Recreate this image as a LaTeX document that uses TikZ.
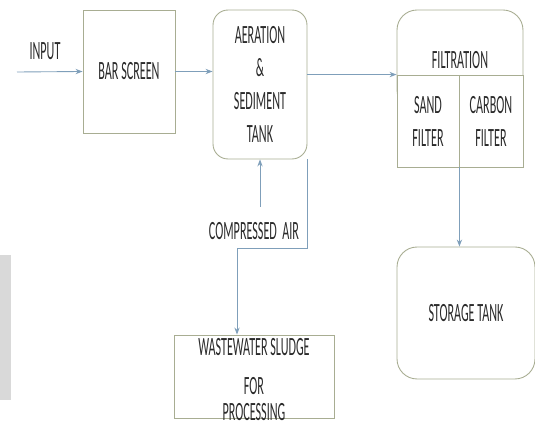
\documentclass[tikz,border=0pt]{standalone}
\usepackage{fontspec}
\setmainfont[FakeStretch=0.46]{Carlito}
\usetikzlibrary{arrows.meta}
\definecolor{boxline}{HTML}{A8AD92}
\definecolor{flowline}{HTML}{7F9FBA}
\definecolor{ink}{HTML}{2B2B2B}

\begin{document}
\begin{tikzpicture}[x=0.02cm,y=-0.02cm,
	box/.style = {draw=boxline, line width=0.5pt, fill=white, text=ink, align=center, inner sep=0pt,
		font=\fontsize{15}{18.8}\selectfont},
	tank/.style = {box, rounded corners=0.3cm},
	flow/.style = {draw=flowline, line width=0.5pt, -{Stealth[length=4pt,width=3pt]}},
	lbl/.style = {text=ink, font=\fontsize{15}{18.8}\selectfont}]
	\useasboundingbox (0,0) rectangle (535,428);
	\fill[black!15] (0,255) rectangle (11,400);
	\node[lbl] (input) at (45,51) {INPUT};
	\coordinate (in) at (17,72);
	\node[box, minimum width=1.84cm, minimum height=2.46cm] (bar) at (129,71.5) {BAR SCREEN};
	\node[tank, minimum width=1.88cm, minimum height=2.98cm] (aer) at (260,84.5) {AERATION\\\&\\SEDIMENT\\TANK};
	\node[tank, rounded corners=0.4cm, minimum width=2.52cm, minimum height=2cm] (filt) at (460,60) {FILTRATION};
	\node[box, minimum width=1.24cm, minimum height=1.84cm] (sand) at (428,121) {SAND\\FILTER};
	\node[box, minimum width=1.28cm, minimum height=1.84cm] (carbon) at (491,121) {CARBON\\FILTER};
	\node[tank, rounded corners=0.4cm, minimum width=2.76cm, minimum height=2.64cm] (store) at (466,313) {STORAGE TANK};
	\node[lbl] (air) at (254,231) {COMPRESSED\ \ AIR};
	\coordinate (airtop) at (260,207);
	\node[box, minimum width=3.2cm, minimum height=1.66cm,
		label={[lbl, align=center, inner sep=0pt, yshift=-2pt, font=\fontsize{15}{16}\selectfont]center:WASTEWATER SLUDGE\\[6pt]FOR\\[-1pt]PROCESSING}]
		(sludge) at (254,376.5) {};
	\coordinate (bend) at (237,248);
	\draw[flow] (in) -- (bar.west);
	\draw[flow] (bar.east) -- (bar.east -| aer.west);
	\draw[flow] (aer.east |- sand.north west) -- (sand.north west);
	\draw[flow] (sand.south east) -- (sand.south east |- store.north);
	\draw[flow] (airtop) -- (aer.south);
	\draw[flow] (aer.south east) |- (bend) -- (bend |- sludge.north);
\end{tikzpicture}
\end{document}
